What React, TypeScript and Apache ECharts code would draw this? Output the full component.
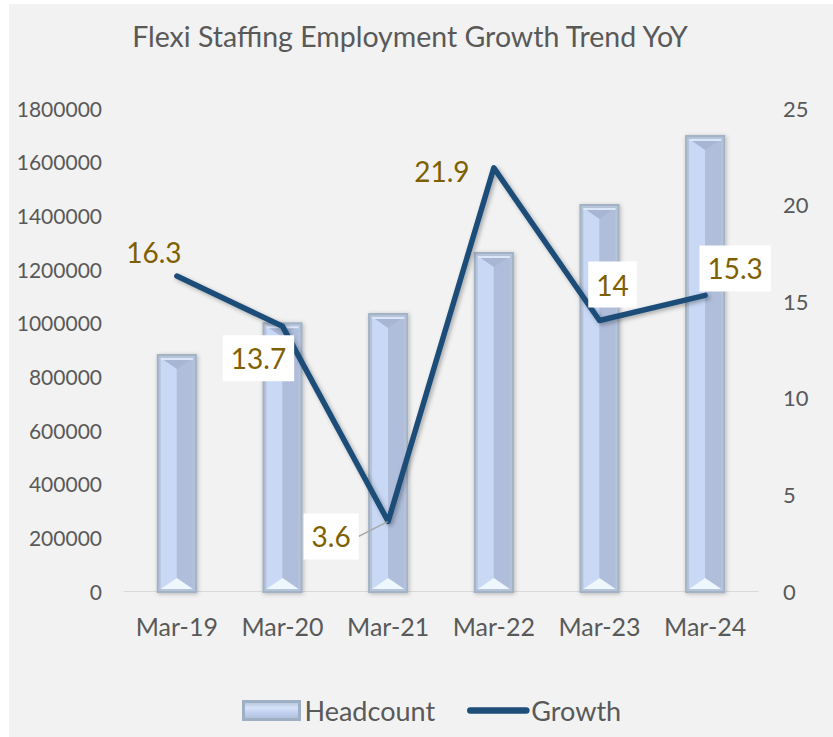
import React, { useEffect, useRef } from "react";
import * as echarts from "echarts";

const categories = ["Mar-19", "Mar-20", "Mar-21", "Mar-22", "Mar-23", "Mar-24"];
const headcount = [883000, 1002000, 1036000, 1263000, 1442000, 1699000];
const growth = [16.3, 13.7, 3.6, 21.9, 14, 15.3];
const leftTicks = { min: 0, max: 1800000, interval: 200000 };
const rightTicks = { min: 0, max: 25, interval: 5 };

// label placement (pixel offsets from the point) and box flags
const labelOffsets: [number, number][] = [
  [-23, -24],
  [-24, 32],
  [-57, 15],
  [-52, 3],
  [13, -36],
  [30, -27],
];
const labelBoxed = [false, true, true, false, true, true];

const FONT = "Lato, 'Open Sans', sans-serif";
const TEXT = "#595959";
const LINE = "#1f4e79";

export default function App() {
  const ref = useRef<HTMLDivElement>(null);
  useEffect(() => {
    if (!ref.current) return;
    const chart = echarts.init(ref.current, undefined, { renderer: "svg" });

    const renderBar = (params: any, api: any) => {
      const idx = api.value(0);
      const v = api.value(1);
      const top = api.coord([idx, v]);
      const base = api.coord([idx, 0]);
      const bw = api.size([1, 0])[0] * 0.38;
      const cx = top[0];
      const x0 = cx - bw / 2;
      const x1 = cx + bw / 2;
      const y0 = top[1];
      const y1 = base[1] + 2;
      const d = 4;
      const bev = 11;
      return {
        type: "group",
        children: [
          {
            type: "rect",
            shape: { x: x0, y: y0, width: bw, height: y1 - y0 },
            style: {
              fill: "#a3b2c4",
              shadowColor: "rgba(0,0,0,0.25)",
              shadowBlur: 4,
              shadowOffsetX: 1,
              shadowOffsetY: 1,
            },
          },
          {
            type: "rect",
            shape: { x: x0 + 2, y: y0 + 2, width: bw - 4, height: y1 - y0 - 4 },
            style: { fill: "#b6c4da" },
          },
          {
            type: "rect",
            shape: { x: x0 + d, y: y0 + d, width: cx - x0 - d, height: y1 - y0 - 2 * d },
            style: { fill: "#c8d8f5" },
          },
          {
            type: "rect",
            shape: { x: cx, y: y0 + d, width: x1 - d - cx, height: y1 - y0 - 2 * d },
            style: { fill: "#b0bedc" },
          },
          {
            type: "polygon",
            shape: {
              points: [
                [x0 + d, y0 + d],
                [x1 - d, y0 + d],
                [cx, y0 + d + bev],
              ],
            },
            style: { fill: "#a9b6d3" },
          },
          {
            type: "rect",
            shape: { x: x0 + d, y: y0 + d, width: bw - 2 * d, height: 2 },
            style: { fill: "#dbe6f9" },
          },
          {
            type: "polygon",
            shape: {
              points: [
                [x0 + d, y1 - d],
                [x1 - d, y1 - d],
                [cx, y1 - d - bev],
              ],
            },
            style: { fill: "#eef7fc" },
          },
        ],
      };
    };

    chart.setOption({
      animation: false,
      backgroundColor: "#f2f2f2",
      textStyle: { fontFamily: FONT },
      title: {
        text: "Flexi Staffing Employment Growth Trend YoY",
        left: 396,
        top: 12,
        textAlign: "center",
        textStyle: { fontFamily: FONT, fontSize: 28.5, fontWeight: "normal", color: TEXT },
      },
      legend: {
        left: 233,
        top: 693,
        padding: 0,
        itemWidth: 56,
        itemHeight: 18,
        itemGap: 32,
        textStyle: { fontFamily: FONT, fontSize: 27, color: TEXT },
        data: [
          {
            name: "Headcount",
            icon: "rect",
            itemStyle: {
              color: new echarts.graphic.LinearGradient(0, 0, 0, 1, [
                { offset: 0, color: "#b3c2da" },
                { offset: 0.35, color: "#d6e2f8" },
                { offset: 0.6, color: "#c2d2f0" },
                { offset: 1, color: "#aebcd8" },
              ]),
              borderColor: "#a0b0c4",
              borderWidth: 3,
            },
          },
          {
            name: "Growth",
            itemStyle: { opacity: 0 },
            lineStyle: { color: LINE, width: 6.5, cap: "round" },
          },
        ],
      },
      grid: { left: 115, right: 75, top: 104, bottom: 146 },
      xAxis: {
        type: "category",
        data: categories,
        axisLine: { show: true, lineStyle: { color: "#d9d9d9", width: 1 } },
        axisTick: { show: false },
        axisLabel: { color: TEXT, fontSize: 25, margin: 22, fontFamily: FONT, interval: 0 },
      },
      yAxis: [
        {
          type: "value",
          min: leftTicks.min,
          max: leftTicks.max,
          interval: leftTicks.interval,
          splitLine: { show: false },
          axisLine: { show: false },
          axisTick: { show: false },
          axisLabel: {
            color: TEXT,
            fontSize: 21,
            margin: 22,
            fontFamily: FONT,
            formatter: (v: number) => String(v),
          },
        },
        {
          type: "value",
          min: rightTicks.min,
          max: rightTicks.max,
          interval: rightTicks.interval,
          position: "right",
          splitLine: { show: false },
          axisLine: { show: false },
          axisTick: { show: false },
          axisLabel: { color: TEXT, fontSize: 22, margin: 25, fontFamily: FONT },
        },
      ],
      series: [
        {
          name: "Headcount",
          type: "custom",
          yAxisIndex: 0,
          renderItem: renderBar,
          encode: { x: 0, y: 1 },
          itemStyle: { color: "#c2d2f0" },
          data: headcount.map((v, i) => [i, v]),
          z: 2,
        },
        {
          name: "Growth",
          type: "line",
          yAxisIndex: 1,
          data: growth.map((v, i) => ({
            value: v,
            label: labelBoxed[i]
              ? { backgroundColor: "#ffffff", padding: [10, 8, 8, 8] }
              : { padding: [10, 8, 8, 8] },
            labelLine: { show: i === 2, lineStyle: { color: "#a6a6a6", width: 1.5 } },
          })),
          symbol: "circle",
          symbolSize: 1,
          itemStyle: { color: LINE },
          lineStyle: {
            color: LINE,
            width: 5.5,
            cap: "round",
            join: "round",
            shadowColor: "rgba(0,0,0,0.3)",
            shadowBlur: 4,
            shadowOffsetX: 2,
            shadowOffsetY: 2,
          },
          label: {
            show: true,
            position: "inside",
            color: "#7f6000",
            fontSize: 28,
            fontFamily: FONT,
          },
          labelLayout: (p: any) => ({
            dx: labelOffsets[p.dataIndex][0],
            dy: labelOffsets[p.dataIndex][1],
          }),
          z: 5,
        },
      ],
    });
    return () => chart.dispose();
  }, []);

  return (
    <div style={{ position: "absolute", left: 0, top: 0, width: 833, height: 737, background: "#ffffff" }}>
      <div ref={ref} style={{ position: "absolute", left: 9, top: 4, width: 824, height: 733 }} />
    </div>
  );
}
